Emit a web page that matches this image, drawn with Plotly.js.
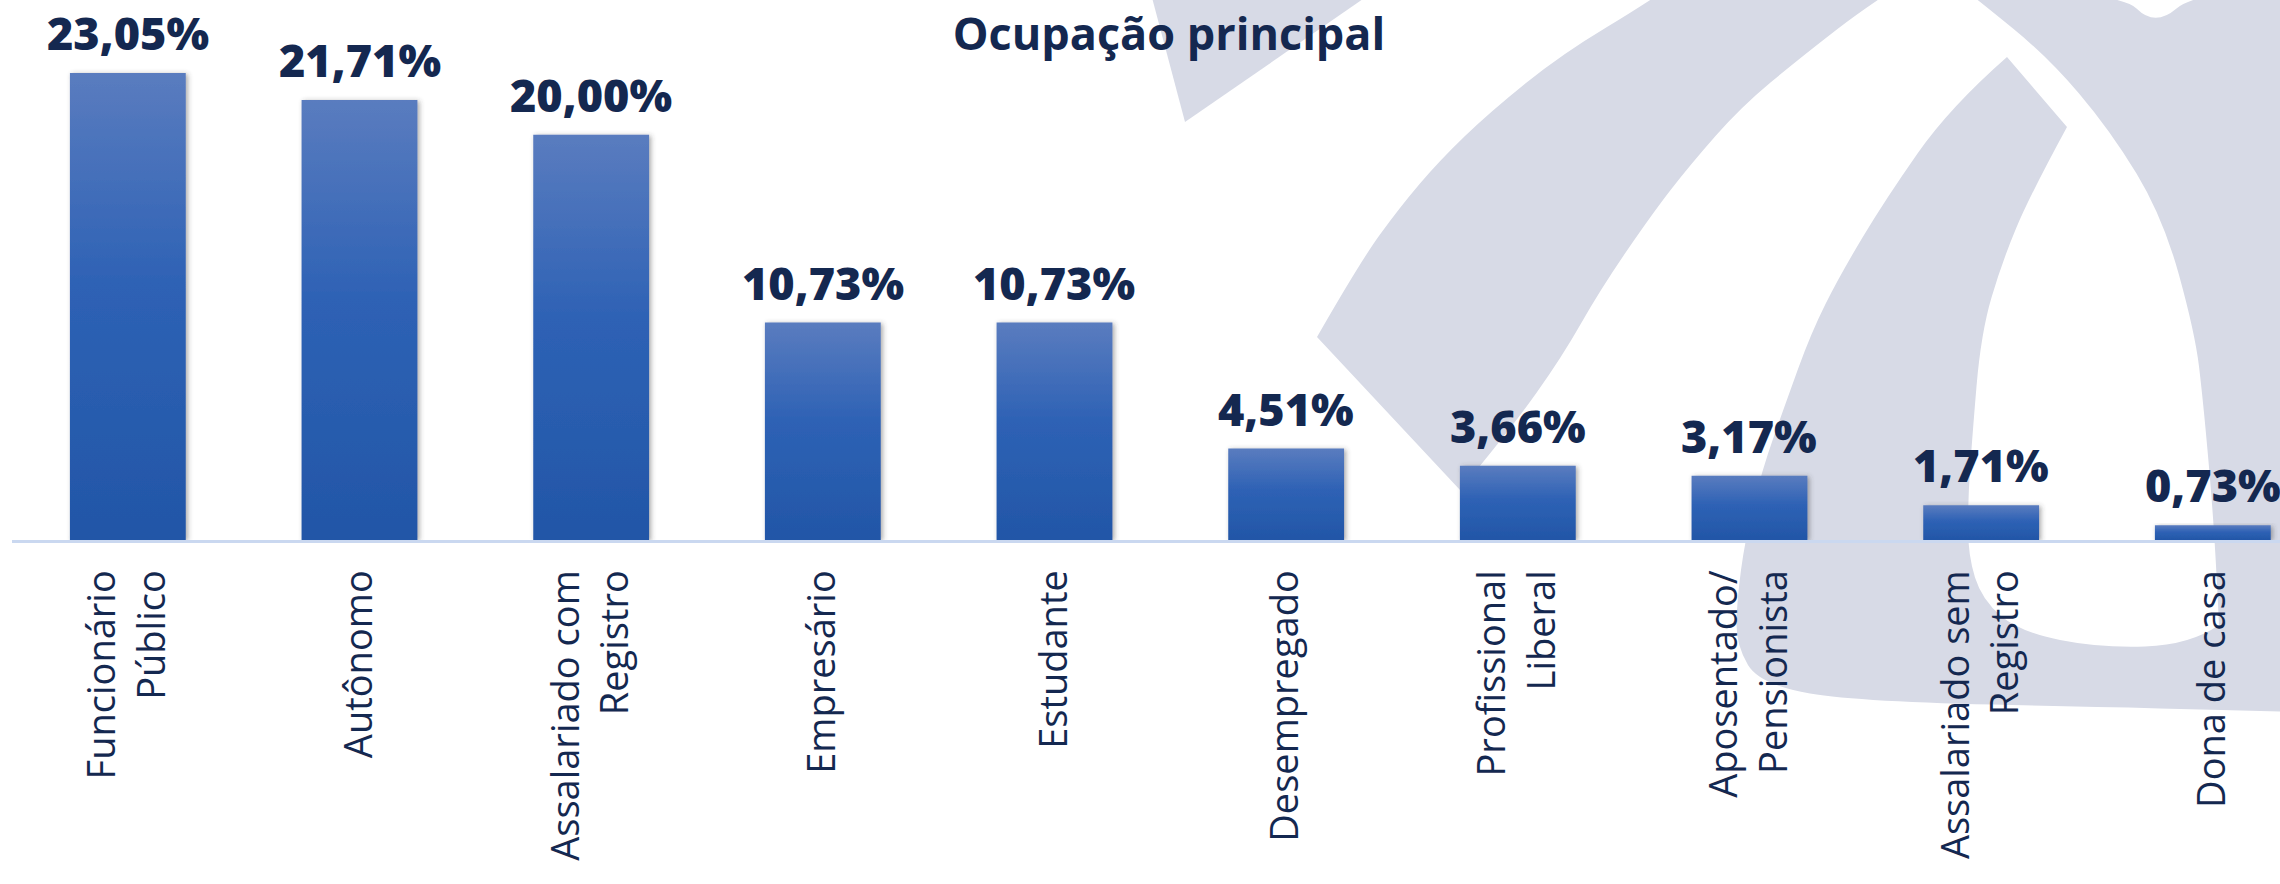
<!DOCTYPE html>
<html>
<head>
<meta charset="utf-8">
<script src="https://cdn.plot.ly/plotly-3.0.1.min.js"></script>
<style>
html,body{margin:0;padding:0;background:#ffffff;}
#chart{width:2280px;height:884px;}
</style>
</head>
<body>
<div id="chart"></div>
<script>
// ---- data ----
const categories = [
  'Funcionário<br>Público',
  'Autônomo',
  'Assalariado com<br>Registro',
  'Empresário',
  'Estudante',
  'Desempregado',
  'Profissional<br>Liberal',
  'Aposentado/<br>Pensionista',
  'Assalariado sem<br>Registro',
  'Dona de casa'
];
const values = [23.05, 21.71, 20.00, 10.73, 10.73, 4.51, 3.66, 3.17, 1.71, 0.73];
const valueLabels = values.map(v => v.toFixed(2).replace('.', ',') + '%');
const chartTitle = 'Ocupação principal';

// ---- geometry helpers for the decorative background (pixel -> paper) ----
const ML = 12, MT = 0, PW = 2268, PH = 540;
function px(p) { return ((p[0] - ML) / PW).toFixed(5) + ',' + (1 - (p[1] - MT) / PH).toFixed(5); }
function smoothSeg(pts, first) {
  let s = (first ? 'M' : 'L') + px(pts[0]);
  if (pts.length === 2) return s + ' L' + px(pts[1]);
  for (let i = 1; i < pts.length - 1; i++) {
    const m = [(pts[i][0] + pts[i + 1][0]) / 2, (pts[i][1] + pts[i + 1][1]) / 2];
    s += ' Q' + px(pts[i]) + ' ' + (i === pts.length - 2 ? px(pts[i + 1]) : px(m));
  }
  return s;
}
function pathOf(segs) { return segs.map((s, i) => smoothSeg(s, i === 0)).join(' ') + ' Z'; }

const bgColor = '#d7dae6';
const triangle = [[[1150, -10], [1376, -10]], [[1376, -10], [1185, 122]], [[1185, 122], [1150, -10]]];
const bandA = [
  [[1317, 337], [1360, 262], [1400, 207], [1440, 160], [1490, 112], [1562, 54], [1652, 0], [1710, -40]],
  [[1710, -40], [1940, -40]],
  [[1940, -40], [1875, 0], [1800, 58], [1741, 107], [1690, 165], [1652, 214], [1600, 290], [1562, 357], [1510, 430], [1460, 490]],
  [[1460, 490], [1317, 337]]
];
const bandBC = [
  [[2007, 57], [1950, 107], [1885, 200], [1840, 275], [1811, 333], [1785, 405], [1762, 470], [1745, 540], [1737, 600], [1736, 645], [1760, 685], [1860, 702], [2164, 708], [2295, 712]],
  [[2295, 712], [2295, -10]],
  [[2295, -10], [2198, -10], [2155, 27], [2118, -10], [1965, -10]],
  [[1965, -10], [1978, 0], [2048, 57], [2110, 130], [2163, 217], [2195, 333], [2203, 400], [2212, 500], [2217, 580], [2219, 625]],
  [[2219, 625], [2190, 645], [2100, 648], [2020, 632], [1982, 600], [1968, 555], [1968, 500], [1972, 440], [1981, 333], [2002, 262], [2030, 195], [2067, 127]],
  [[2067, 127], [2007, 57]]
];
const shapes = [triangle, bandA, bandBC].map(segs => ({
  type: 'path', xref: 'paper', yref: 'paper', layer: 'below',
  path: pathOf(segs), fillcolor: bgColor, line: { width: 0 }
}));

// ---- chart ----
const navy = '#142850';
const trace = {
  type: 'bar',
  x: categories,
  y: values,
  marker: { color: '#2f61b2', line: { width: 0 } },
  hoverinfo: 'none'
};

const annotations = categories.map((c, i) => ({
  x: c, y: values[i], xref: 'x', yref: 'y',
  text: valueLabels[i], showarrow: false,
  xanchor: 'center', yanchor: 'bottom', yshift: 9, borderpad: 0,
  font: { family: 'Open Sans', size: 45, color: navy, weight: 800 }
}));

const layout = {
  width: 2280, height: 884,
  margin: { l: ML, r: 0, t: MT, b: 884 - PH },
  paper_bgcolor: '#ffffff',
  plot_bgcolor: 'rgba(0,0,0,0)',
  showlegend: false,
  bargap: 0.5,
  title: {
    text: chartTitle,
    font: { family: 'Open Sans', size: 45, color: navy, weight: 700 },
    xref: 'container', yref: 'container',
    x: 1169 / 2280, xanchor: 'center',
    y: 1 - 34 / 884, yanchor: 'middle'
  },
  xaxis: {
    type: 'category',
    range: [-0.5, 9.29],
    showline: true, linecolor: '#cad8f0', linewidth: 3,
    showgrid: false, zeroline: false,
    ticks: '', tickangle: -90,
    ticklabelstandoff: 12,
    tickfont: { family: 'Open Sans', size: 38, color: navy },
    fixedrange: true
  },
  yaxis: { range: [0, 26.65], visible: false, fixedrange: true },
  annotations: annotations,
  shapes: shapes
};

const gd = document.getElementById('chart');
Plotly.newPlot(gd, [trace], layout, { staticPlot: true, displayModeBar: false }).then(() => {
  const ns = 'http://www.w3.org/2000/svg';
  const svg = gd.querySelector('svg.main-svg');
  let defs = svg.querySelector('defs');
  if (!defs) { defs = document.createElementNS(ns, 'defs'); svg.insertBefore(defs, svg.firstChild); }
  const lg = document.createElementNS(ns, 'linearGradient');
  lg.setAttribute('id', 'barGrad');
  lg.setAttribute('x1', '0'); lg.setAttribute('y1', '0');
  lg.setAttribute('x2', '0'); lg.setAttribute('y2', '1');
  [['0%', '#5a7cbf'], ['45%', '#2e62b5'], ['100%', '#2256a7']].forEach(([o, c]) => {
    const st = document.createElementNS(ns, 'stop');
    st.setAttribute('offset', o); st.setAttribute('stop-color', c);
    lg.appendChild(st);
  });
  defs.appendChild(lg);
  const f = document.createElementNS(ns, 'filter');
  f.setAttribute('id', 'barShadow');
  f.setAttribute('x', '-10%'); f.setAttribute('y', '-10%');
  f.setAttribute('width', '125%'); f.setAttribute('height', '130%');
  const ds = document.createElementNS(ns, 'feDropShadow');
  ds.setAttribute('dx', '2'); ds.setAttribute('dy', '1');
  ds.setAttribute('stdDeviation', '2.5');
  ds.setAttribute('flood-color', '#404040'); ds.setAttribute('flood-opacity', '0.45');
  f.appendChild(ds);
  defs.appendChild(f);
  gd.querySelectorAll('.barlayer .point path').forEach(p => {
    p.style.fill = 'url(#barGrad)';
    p.setAttribute('filter', 'url(#barShadow)');
  });
});
</script>
</body>
</html>
